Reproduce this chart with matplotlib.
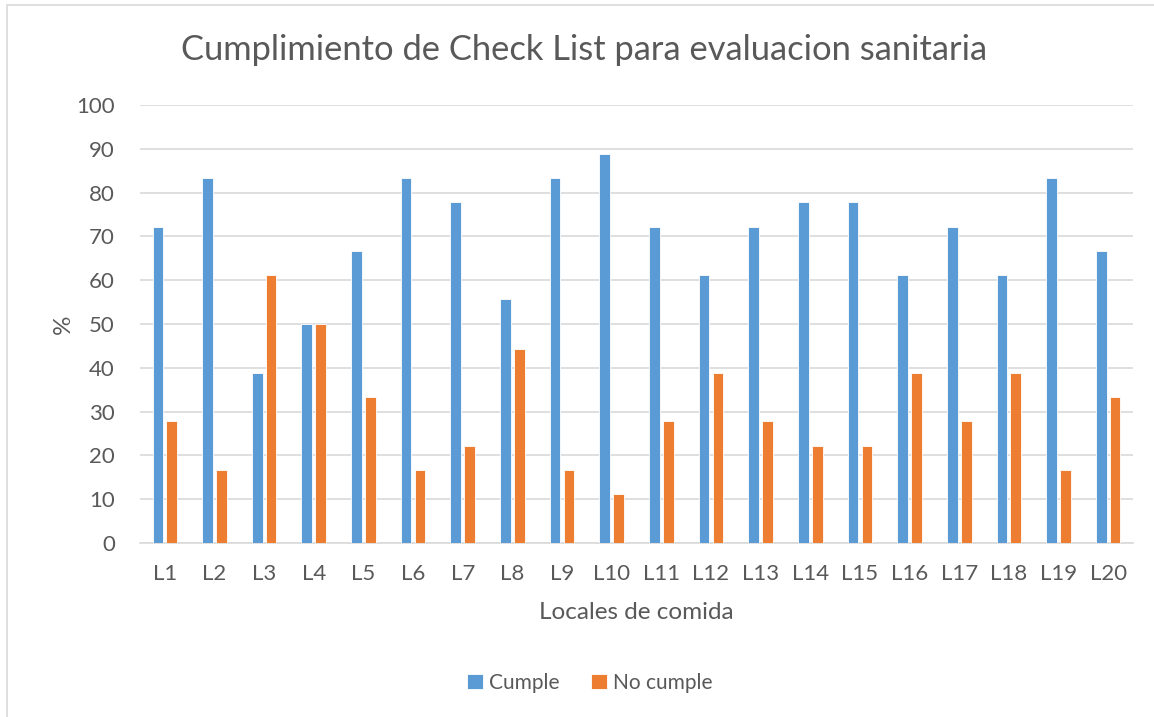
import matplotlib

matplotlib.use("Agg")
import matplotlib.pyplot as plt
import numpy as np
from matplotlib.patches import Rectangle

locales = [f"L{i}" for i in range(1, 21)]
cumple = [72.2, 83.3, 38.9, 50.0, 66.7, 83.3, 77.8, 55.6, 83.3, 88.9,
          72.2, 61.1, 72.2, 77.8, 77.8, 61.1, 72.2, 61.1, 83.3, 66.7]
no_cumple = [27.8, 16.7, 61.1, 50.0, 33.3, 16.7, 22.2, 44.4, 16.7, 11.1,
             27.8, 38.9, 27.8, 22.2, 22.2, 38.9, 27.8, 38.9, 16.7, 33.3]
y_ticks = [0, 10, 20, 30, 40, 50, 60, 70, 80, 90, 100]

TEXT = "#595959"
GRID = "#D9D9D9"
BLUE = "#5B9BD5"
ORANGE = "#ED7D31"

plt.rcParams["font.family"] = ["Lato", "DejaVu Sans"]

fig = plt.figure(figsize=(11.54, 7.17), dpi=100)
fig.patch.set_facecolor("white")
fig.patches.append(Rectangle((7 / 1154, -0.1), 1.2, 1.1 - 5 / 717, transform=fig.transFigure,
                             fill=False, edgecolor=GRID, linewidth=1.2))

ax = fig.add_axes([140 / 1154, 1 - 543 / 717, 993 / 1154, 438 / 717])
x = np.arange(len(locales))
w = 0.215
ax.bar(x - 0.14, cumple, w, color=BLUE, edgecolor="white", linewidth=0.6, label="Cumple", zorder=3)
ax.bar(x + 0.14, no_cumple, w, color=ORANGE, edgecolor="white", linewidth=0.6, label="No cumple", zorder=3)

ax.set_xlim(-0.5, len(locales) - 0.5)
ax.set_ylim(0, 100)
ax.set_yticks(y_ticks)
ax.set_xticks(x)
ax.set_xticklabels(locales)
ax.tick_params(axis="both", length=0, labelsize=16, labelcolor=TEXT)
ax.tick_params(axis="y", pad=18)
ax.tick_params(axis="x", pad=15)
ax.grid(axis="y", color=GRID, linewidth=1.2, zorder=0)
for side in ("top", "right", "left"):
    ax.spines[side].set_visible(False)
ax.spines["bottom"].set_color(GRID)
ax.spines["bottom"].set_linewidth(1.2)

ax.set_xlabel("Locales de comida", fontsize=17.5, color=TEXT, labelpad=13)
ax.set_ylabel("%", fontsize=17.5, color=TEXT, labelpad=2)

fig.text(584 / 1154, 1 - 50 / 717, "Cumplimiento de Check List para evaluacion sanitaria",
         ha="center", va="center", fontsize=24.8, color=TEXT)

fig.legend(loc="center", bbox_to_anchor=(590 / 1154, 1 - 683 / 717), ncol=2, frameon=False,
           fontsize=15, labelcolor=TEXT, handlelength=0.75, handleheight=0.75,
           handletextpad=0.3, columnspacing=1.5)

fig.savefig("out.png", dpi=100)
